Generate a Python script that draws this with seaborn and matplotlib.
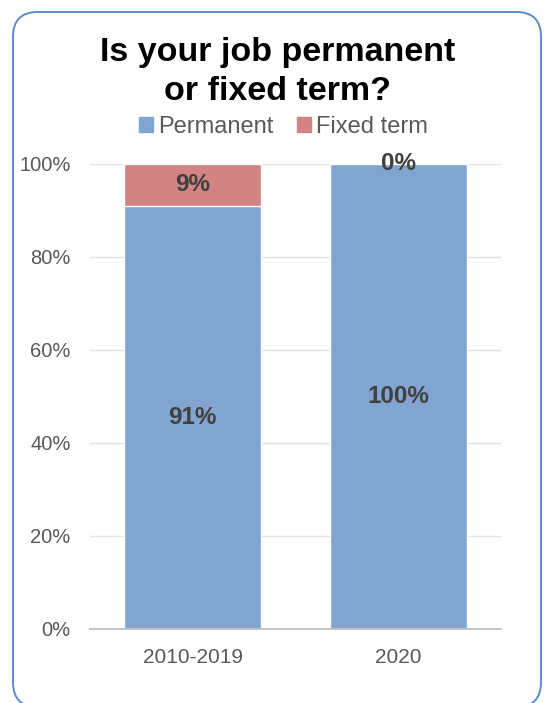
import matplotlib
matplotlib.use("Agg")
import matplotlib.pyplot as plt
from matplotlib.patches import FancyBboxPatch
import seaborn as sns
import pandas as pd

periods = ["2010-2019", "2020"]
permanent = [91, 100]
fixed_term = [9, 0]
y_ticks = [0, 20, 40, 60, 80, 100]

BLUE = "#81A5D0"
RED = "#D38381"
LABEL = "#404040"

sns.set_theme(style="white")
plt.rcParams["font.family"] = ["Liberation Sans", "DejaVu Sans"]

df = pd.DataFrame({"period": periods, "permanent": permanent, "fixed": fixed_term})
df["total"] = df["permanent"] + df["fixed"]

fig = plt.figure(figsize=(5.49, 7.03), dpi=100)
ax = fig.add_axes([0.1639, 0.1053, 0.7486, 0.6615])

# stacked bars: the full height in red, permanent share drawn over it in blue
sns.barplot(data=df, x="period", y="total", color=RED, saturation=1,
            width=0.667, ax=ax, zorder=2)
sns.barplot(data=df, x="period", y="permanent", color=BLUE, saturation=1,
            width=0.667, ax=ax, zorder=3)

ax.set_ylim(0, 100)
ax.set_xlim(-0.5, 1.5)
ax.set_yticks(y_ticks)
ax.set_yticklabels([f"{v}%" for v in y_ticks], fontsize=14.5, color="#595959")
ax.tick_params(axis="x", labelsize=15, labelcolor="#595959", pad=14, length=0)
ax.tick_params(axis="y", length=0, pad=14)
ax.set_xlabel("")
ax.set_ylabel("")
ax.grid(axis="y", color="#E3E3E3", linewidth=1, zorder=0)
ax.set_axisbelow(True)
for side in ["top", "right", "left"]:
    ax.spines[side].set_visible(False)
ax.spines["bottom"].set_color("#BFBFBF")
ax.spines["bottom"].set_linewidth(1.3)
ax.spines["bottom"].set_zorder(5)

# value labels
for i, (p, f) in enumerate(zip(permanent, fixed_term)):
    ax.text(i, p / 2, f"{p}%", ha="center", va="center",
            fontsize=17.5, fontweight="bold", color=LABEL, zorder=6)
    ax.text(i, p + f / 2 if f else p, f"{f}%", ha="center",
            va="center", fontsize=17.5, fontweight="bold", color=LABEL, zorder=6)

fig.text(0.505, 0.898, "Is your job permanent\nor fixed term?", ha="center",
         va="center", fontsize=24.5, fontweight="bold", color="black",
         linespacing=1.32)

handles = [plt.Rectangle((0, 0), 1, 1, color=BLUE),
           plt.Rectangle((0, 0), 1, 1, color=RED)]
fig.legend(handles, ["Permanent", "Fixed term"], loc="center",
           bbox_to_anchor=(0.516, 0.819), ncol=2, frameon=False,
           fontsize=17, handlelength=0.6, handleheight=0.6,
           handletextpad=0.2, columnspacing=1.0, labelcolor="#595959")

border = FancyBboxPatch((13 / 549, -4 / 703), 528 / 549, 695 / 703,
                        boxstyle="round,pad=0,rounding_size=0.045",
                        transform=fig.transFigure, fill=False,
                        edgecolor="#5B8BC9", linewidth=1.4,
                        mutation_aspect=549 / 703)
fig.patches.append(border)

fig.savefig("out.png", dpi=100)
